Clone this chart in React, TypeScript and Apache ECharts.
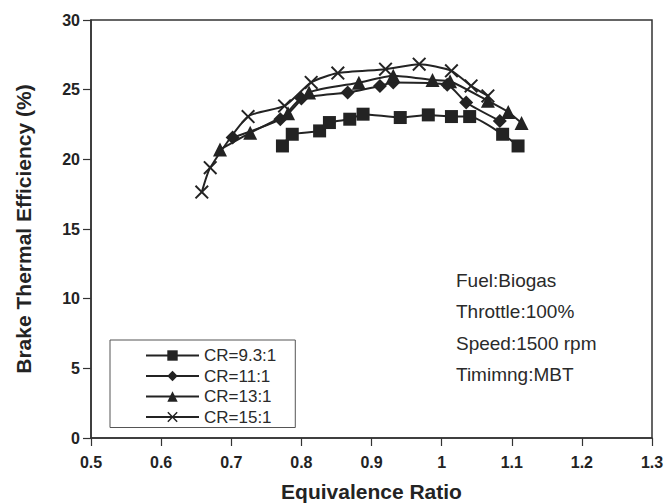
import React, { useEffect, useRef } from "react";
import * as echarts from "echarts";

const seriesNames = ["CR=9.3:1", "CR=11:1", "CR=13:1", "CR=15:1"];

const cr93X = [0.773, 0.787, 0.826, 0.84, 0.869, 0.888, 0.941, 0.981, 1.014, 1.04, 1.087, 1.109];
const cr93Y = [20.96, 21.8, 22.04, 22.64, 22.88, 23.24, 23.0, 23.19, 23.07, 23.07, 21.8, 20.96];

const cr11X = [0.702, 0.77, 0.8, 0.866, 0.912, 0.931, 1.008, 1.035, 1.083];
const cr11Y = [21.56, 22.88, 24.37, 24.8, 25.27, 25.52, 25.35, 24.08, 22.76];

const cr13X = [0.684, 0.727, 0.781, 0.811, 0.882, 0.931, 0.987, 1.012, 1.066, 1.095, 1.114];
const cr13Y = [20.7, 21.9, 23.3, 24.8, 25.5, 26.0, 25.7, 25.6, 24.2, 23.4, 22.6];

const cr15X = [0.658, 0.67, 0.724, 0.776, 0.814, 0.852, 0.92, 0.968, 1.014, 1.042, 1.066];
const cr15Y = [17.65, 19.4, 23.07, 23.83, 25.52, 26.19, 26.47, 26.83, 26.35, 25.27, 24.55];

const annotations = ["Fuel:Biogas", "Throttle:100%", "Speed:1500 rpm", "Timimng:MBT"];

const FONT = "'Liberation Sans', Arial, Helvetica, sans-serif";
const INK = "#232323";
const CROSS = "path://M0,1L1,0L5,4L9,0L10,1L6,5L10,9L9,10L5,6L1,10L0,9L4,5Z";

function zip(xs: number[], ys: number[]) {
  return xs.map((x, i) => [x, ys[i]]);
}

export default function App() {
  const ref = useRef<HTMLDivElement>(null);
  useEffect(() => {
    if (!ref.current) return;
    const chart = echarts.init(ref.current, null, { renderer: "svg" });
    const symbols = ["rect", "diamond", "triangle", CROSS];
    const sizes = [13, 14, 14, 14];
    const datas = [zip(cr93X, cr93Y), zip(cr11X, cr11Y), zip(cr13X, cr13Y), zip(cr15X, cr15Y)];
    chart.setOption({
      animation: false,
      backgroundColor: "#ffffff",
      grid: {
        left: 91,
        right: 13,
        top: 20,
        bottom: 66,
        outerBoundsMode: "none",
        containLabel: false,
        show: true,
        borderColor: "#333",
        borderWidth: 1.5,
        backgroundColor: "transparent",
      },
      xAxis: {
        type: "value",
        min: 0.5,
        max: 1.3,
        interval: 0.1,
        name: "Equivalence Ratio",
        nameLocation: "middle",
        nameGap: 43,
        nameTextStyle: { fontFamily: FONT, fontSize: 21, fontWeight: "bold", color: INK },
        axisLine: { show: true, lineStyle: { color: "#333", width: 1.5 } },
        axisTick: { show: true, inside: false, length: 8, lineStyle: { color: "#333", width: 1.2 } },
        axisLabel: { fontFamily: FONT, fontSize: 16, fontWeight: "bold", color: INK, margin: 16 },
        splitLine: { show: false },
      },
      yAxis: {
        type: "value",
        min: 0,
        max: 30,
        interval: 5,
        name: "Brake Thermal Efficiency (%)",
        nameLocation: "middle",
        nameRotate: 90,
        nameGap: 57,
        nameTextStyle: { fontFamily: FONT, fontSize: 21, fontWeight: "bold", color: INK },
        axisLine: { show: true, lineStyle: { color: "#333", width: 1.5 } },
        axisTick: { show: true, inside: false, length: 8, lineStyle: { color: "#333", width: 1.2 } },
        axisLabel: { fontFamily: FONT, fontSize: 16, fontWeight: "bold", color: INK, margin: 11 },
        splitLine: { show: false },
      },
      legend: {
        orient: "vertical",
        left: 110,
        top: 340,
        itemWidth: 53,
        itemHeight: 13,
        itemGap: 3.5,
        padding: [7, 19, 2, 35],
        borderColor: "#555",
        borderWidth: 1,
        textStyle: { fontFamily: FONT, fontSize: 17, color: "#2a2a2a" },
        data: seriesNames,
      },
      series: seriesNames.map((name, i) => ({
        name,
        type: "line",
        data: datas[i],
        smooth: 0.2,
        symbol: symbols[i],
        symbolSize: sizes[i],
        showSymbol: true,
        lineStyle: { color: INK, width: 2 },
        itemStyle: { color: INK, borderWidth: 0 },
        emphasis: { disabled: true },
        z: 2 + i,
      })),
      graphic: annotations.map((t, i) => ({
        type: "text",
        left: 456,
        top: 282 + i * 31.3 - 11,
        style: { text: t, fontFamily: FONT, fontSize: 19, fill: "#2a2a2a" },
      })),
    });
    return () => chart.dispose();
  }, []);
  return (
    <div
      ref={ref}
      style={{ position: "fixed", left: 0, top: 0, width: 665, height: 504 }}
    />
  );
}
